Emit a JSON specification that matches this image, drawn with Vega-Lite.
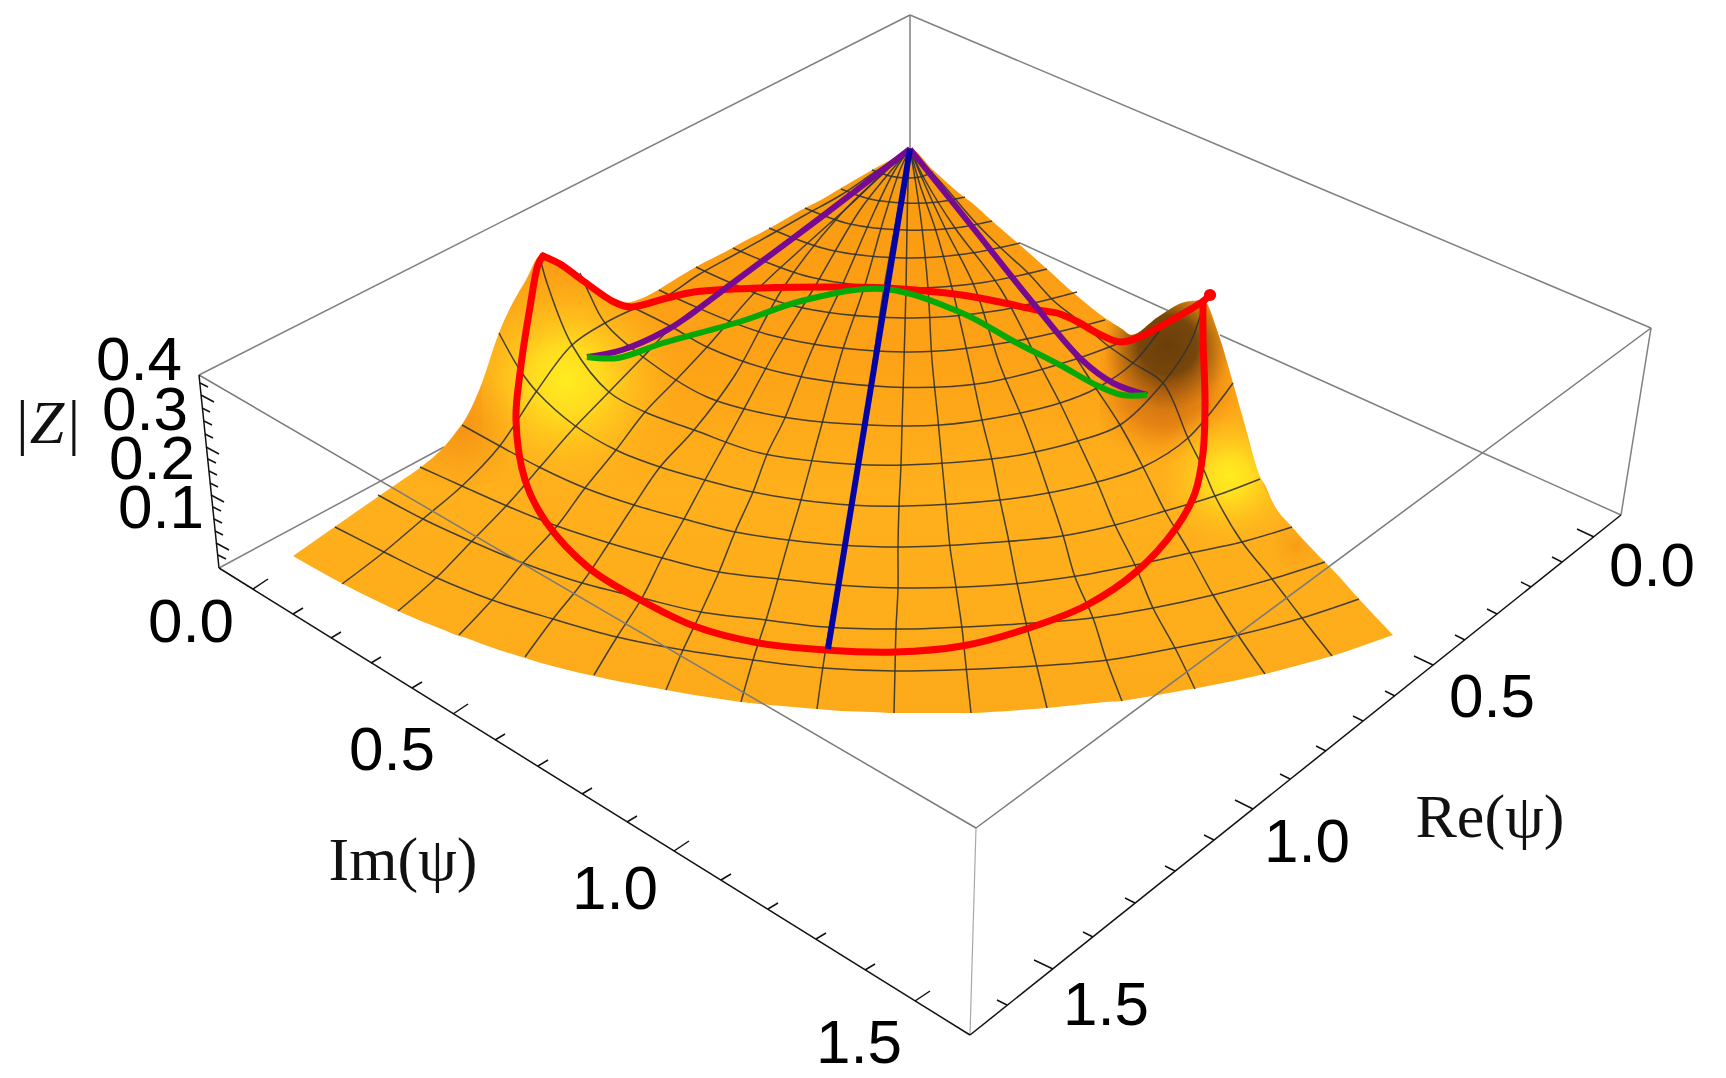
{"$schema":"https://vega.github.io/schema/vega-lite/v6.json","autosize":{"type":"fit","contains":"padding"},"width":1726,"height":1078,"padding":0,"background":"#ffffff","config":{"view":{"stroke":null}},
"datasets":{
"surface":[{"x":293,"y":556,"y2":556},{"x":343,"y":521,"y2":584},{"x":379,"y":496,"y2":602},{"x":398,"y":483,"y2":611},{"x":421,"y":467,"y2":621},{"x":444,"y":447,"y2":630},{"x":459,"y":428,"y2":636},{"x":463,"y":423,"y2":637},{"x":482,"y":383,"y2":644},{"x":499,"y":333,"y2":650},{"x":520,"y":290,"y2":656.5},{"x":525,"y":282,"y2":658},{"x":541,"y":255,"y2":663},{"x":560,"y":263,"y2":668},{"x":578,"y":273,"y2":672.5},{"x":594,"y":287,"y2":676},{"x":605,"y":297,"y2":678.5},{"x":622,"y":303,"y2":682},{"x":658,"y":290,"y2":688.5},{"x":666,"y":285,"y2":690},{"x":694,"y":268,"y2":695},{"x":734,"y":247,"y2":701},{"x":741,"y":243,"y2":702},{"x":770,"y":228,"y2":705},{"x":805,"y":208,"y2":708},{"x":817,"y":202,"y2":709},{"x":841,"y":188,"y2":711},{"x":872,"y":170,"y2":712},{"x":894,"y":158,"y2":713},{"x":910,"y":149,"y2":713},{"x":933,"y":170,"y2":713},{"x":964,"y":197,"y2":713},{"x":971,"y":202,"y2":713},{"x":991,"y":220,"y2":712},{"x":1020,"y":245,"y2":710},{"x":1047,"y":269,"y2":708},{"x":1076,"y":295,"y2":705},{"x":1105,"y":318,"y2":702},{"x":1122,"y":329,"y2":701},{"x":1131,"y":335,"y2":699.5},{"x":1158,"y":317,"y2":695},{"x":1185,"y":302,"y2":690},{"x":1195,"y":301,"y2":688.5},{"x":1203,"y":300,"y2":687},{"x":1218,"y":333,"y2":684},{"x":1233,"y":383,"y2":681},{"x":1247,"y":433,"y2":678},{"x":1260,"y":477,"y2":675},{"x":1265,"y":485,"y2":674},{"x":1273,"y":503,"y2":672},{"x":1292,"y":527,"y2":667},{"x":1325,"y":562,"y2":658},{"x":1332,"y":569,"y2":656},{"x":1359,"y":599,"y2":647},{"x":1393,"y":635,"y2":635}],
"patches":[
{"p":"yl","x":482,"y":383,"y2":490},{"p":"yl","x":499,"y":333,"y2":490},{"p":"yl","x":520,"y":290,"y2":490},{"p":"yl","x":541,"y":255,"y2":490},{"p":"yl","x":560,"y":263,"y2":490},{"p":"yl","x":578,"y":273,"y2":490},{"p":"yl","x":605,"y":297,"y2":490},{"p":"yl","x":622,"y":303,"y2":490},{"p":"yl","x":658,"y":290,"y2":490},{"p":"yl","x":680,"y":276,"y2":490},
{"p":"ol","x":400,"y":481,"y2":505},{"p":"ol","x":421,"y":467,"y2":505},{"p":"ol","x":444,"y":447,"y2":505},{"p":"ol","x":463,"y":423,"y2":505},{"p":"ol","x":482,"y":383,"y2":505},{"p":"ol","x":499,"y":333,"y2":505},{"p":"ol","x":520,"y":290,"y2":505},
{"p":"f1","x":1100,"y":314,"y2":480},{"p":"f1","x":1105,"y":318,"y2":480},{"p":"f1","x":1122,"y":329,"y2":480},{"p":"f1","x":1131,"y":335,"y2":480},{"p":"f1","x":1158,"y":317,"y2":480},{"p":"f1","x":1185,"y":302,"y2":480},{"p":"f1","x":1203,"y":300,"y2":480},{"p":"f1","x":1218,"y":333,"y2":480},{"p":"f1","x":1233,"y":383,"y2":480},{"p":"f1","x":1245,"y":426,"y2":480},
{"p":"c1","x":1105,"y":318,"y2":420},{"p":"c1","x":1122,"y":329,"y2":420},{"p":"c1","x":1131,"y":335,"y2":420},{"p":"c1","x":1158,"y":317,"y2":420},{"p":"c1","x":1185,"y":302,"y2":420},{"p":"c1","x":1203,"y":300,"y2":420},{"p":"c1","x":1218,"y":333,"y2":420},{"p":"c1","x":1233,"y":383,"y2":420},
{"p":"yr","x":1150,"y":400,"y2":560},{"p":"yr","x":1240,"y":405,"y2":560},{"p":"yr","x":1247,"y":433,"y2":560},{"p":"yr","x":1260,"y":477,"y2":560},{"p":"yr","x":1273,"y":503,"y2":560},{"p":"yr","x":1292,"y":527,"y2":560},
{"p":"os","x":1273,"y":503,"y2":590},{"p":"os","x":1292,"y":527,"y2":590},{"p":"os","x":1325,"y":562,"y2":590}],
"mesh":[
{"g":"a1","x":872,"y":170},{"g":"a1","x":890,"y":176},{"g":"a1","x":905,"y":178},{"g":"a1","x":920,"y":177},{"g":"a1","x":933,"y":172},
{"g":"a2","x":841,"y":189},{"g":"a2","x":870,"y":199},{"g":"a2","x":905,"y":203},{"g":"a2","x":938,"y":202},{"g":"a2","x":965,"y":197},
{"g":"a3","x":805,"y":208},{"g":"a3","x":850,"y":224},{"g":"a3","x":905,"y":230},{"g":"a3","x":955,"y":228},{"g":"a3","x":992,"y":221},
{"g":"a4","x":769,"y":228},{"g":"a4","x":830,"y":250},{"g":"a4","x":905,"y":258},{"g":"a4","x":965,"y":254},{"g":"a4","x":1020,"y":243},
{"g":"a5","x":733,"y":248},{"g":"a5","x":810,"y":277},{"g":"a5","x":905,"y":288},{"g":"a5","x":980,"y":283},{"g":"a5","x":1047,"y":269},
{"g":"a6","x":696,"y":267},{"g":"a6","x":790,"y":305},{"g":"a6","x":905,"y":318},{"g":"a6","x":995,"y":311},{"g":"a6","x":1077,"y":292},
{"g":"a7","x":659,"y":290},{"g":"a7","x":770,"y":335},{"g":"a7","x":905,"y":352},{"g":"a7","x":1010,"y":342},{"g":"a7","x":1105,"y":320},
{"g":"a8","x":634,"y":308},{"g":"a8","x":672,"y":327},{"g":"a8","x":707,"y":347},{"g":"a8","x":783,"y":373},{"g":"a8","x":890,"y":387},{"g":"a8","x":984,"y":383},{"g":"a8","x":1073,"y":360},{"g":"a8","x":1122,"y":342},
{"g":"a9","x":580,"y":273},{"g":"a9","x":589,"y":293},{"g":"a9","x":605,"y":323},{"g":"a9","x":643,"y":357},{"g":"a9","x":707,"y":397},{"g":"a9","x":783,"y":417},{"g":"a9","x":868,"y":425},{"g":"a9","x":940,"y":425},{"g":"a9","x":1000,"y":417},{"g":"a9","x":1060,"y":403},{"g":"a9","x":1097,"y":388},{"g":"a9","x":1133,"y":363},{"g":"a9","x":1162,"y":327},
{"g":"a10","x":540,"y":258},{"g":"a10","x":547,"y":283},{"g":"a10","x":572,"y":345},{"g":"a10","x":609,"y":392},{"g":"a10","x":645,"y":412},{"g":"a10","x":694,"y":430},{"g":"a10","x":760,"y":453},{"g":"a10","x":850,"y":464},{"g":"a10","x":905,"y":465},{"g":"a10","x":1000,"y":458},{"g":"a10","x":1035,"y":452},{"g":"a10","x":1078,"y":441},{"g":"a10","x":1120,"y":425},{"g":"a10","x":1163,"y":383},{"g":"a10","x":1190,"y":343},{"g":"a10","x":1202,"y":310},
{"g":"a11","x":499,"y":333},{"g":"a11","x":520,"y":370},{"g":"a11","x":537,"y":392},{"g":"a11","x":574,"y":425},{"g":"a11","x":616,"y":450},{"g":"a11","x":660,"y":467},{"g":"a11","x":705,"y":480},{"g":"a11","x":753,"y":492},{"g":"a11","x":801,"y":500},{"g":"a11","x":850,"y":505},{"g":"a11","x":905,"y":506},{"g":"a11","x":1000,"y":500},{"g":"a11","x":1048,"y":493},{"g":"a11","x":1097,"y":482},{"g":"a11","x":1143,"y":467},{"g":"a11","x":1188,"y":438},{"g":"a11","x":1233,"y":383},
{"g":"a12","x":462,"y":425},{"g":"a12","x":498,"y":445},{"g":"a12","x":541,"y":468},{"g":"a12","x":585,"y":488},{"g":"a12","x":634,"y":505},{"g":"a12","x":684,"y":519},{"g":"a12","x":735,"y":532},{"g":"a12","x":789,"y":540},{"g":"a12","x":840,"y":545},{"g":"a12","x":905,"y":547},{"g":"a12","x":1000,"y":542},{"g":"a12","x":1062,"y":536},{"g":"a12","x":1115,"y":525},{"g":"a12","x":1165,"y":511},{"g":"a12","x":1215,"y":496},{"g":"a12","x":1260,"y":479},
{"g":"a13","x":420,"y":467},{"g":"a13","x":462,"y":486},{"g":"a13","x":507,"y":506},{"g":"a13","x":557,"y":526},{"g":"a13","x":609,"y":543},{"g":"a13","x":662,"y":558},{"g":"a13","x":719,"y":572},{"g":"a13","x":778,"y":579},{"g":"a13","x":837,"y":585},{"g":"a13","x":905,"y":588},{"g":"a13","x":1000,"y":585},{"g":"a13","x":1077,"y":576},{"g":"a13","x":1135,"y":565},{"g":"a13","x":1190,"y":553},{"g":"a13","x":1242,"y":542},{"g":"a13","x":1292,"y":527},
{"g":"a14","x":378,"y":495},{"g":"a14","x":423,"y":519},{"g":"a14","x":473,"y":542},{"g":"a14","x":523,"y":563},{"g":"a14","x":582,"y":583},{"g":"a14","x":642,"y":598},{"g":"a14","x":701,"y":612},{"g":"a14","x":766,"y":620},{"g":"a14","x":826,"y":627},{"g":"a14","x":905,"y":629},{"g":"a14","x":1000,"y":625},{"g":"a14","x":1092,"y":618},{"g":"a14","x":1153,"y":608},{"g":"a14","x":1213,"y":595},{"g":"a14","x":1272,"y":579},{"g":"a14","x":1325,"y":562},
{"g":"a15","x":335,"y":527},{"g":"a15","x":384,"y":552},{"g":"a15","x":435,"y":577},{"g":"a15","x":492,"y":600},{"g":"a15","x":553,"y":619},{"g":"a15","x":617,"y":637},{"g":"a15","x":683,"y":650},{"g":"a15","x":753,"y":660},{"g":"a15","x":823,"y":668},{"g":"a15","x":895,"y":671},{"g":"a15","x":1000,"y":668},{"g":"a15","x":1108,"y":660},{"g":"a15","x":1175,"y":648},{"g":"a15","x":1238,"y":635},{"g":"a15","x":1302,"y":618},{"g":"a15","x":1359,"y":599},
{"g":"r1","x":910,"y":149},{"g":"r1","x":875,"y":172},{"g":"r1","x":841,"y":195},{"g":"r1","x":805,"y":215},{"g":"r1","x":770,"y":235},{"g":"r1","x":734,"y":255},{"g":"r1","x":698,"y":275},{"g":"r1","x":665,"y":297},{"g":"r1","x":636,"y":308},{"g":"r1","x":605,"y":323},{"g":"r1","x":572,"y":345},{"g":"r1","x":536,"y":392},{"g":"r1","x":499,"y":447},{"g":"r1","x":462,"y":486},{"g":"r1","x":423,"y":519},{"g":"r1","x":384,"y":552},{"g":"r1","x":342,"y":584},
{"g":"r2","x":910,"y":149},{"g":"r2","x":880,"y":172},{"g":"r2","x":850,"y":194},{"g":"r2","x":788,"y":240},{"g":"r2","x":725,"y":287},{"g":"r2","x":672,"y":327},{"g":"r2","x":643,"y":357},{"g":"r2","x":609,"y":392},{"g":"r2","x":574,"y":428},{"g":"r2","x":540,"y":467},{"g":"r2","x":507,"y":505},{"g":"r2","x":471,"y":542},{"g":"r2","x":436,"y":578},{"g":"r2","x":398,"y":611},
{"g":"r3","x":910,"y":149},{"g":"r3","x":880,"y":176},{"g":"r3","x":850,"y":205},{"g":"r3","x":800,"y":250},{"g":"r3","x":757,"y":290},{"g":"r3","x":707,"y":347},{"g":"r3","x":674,"y":382},{"g":"r3","x":645,"y":412},{"g":"r3","x":616,"y":450},{"g":"r3","x":585,"y":488},{"g":"r3","x":557,"y":526},{"g":"r3","x":523,"y":563},{"g":"r3","x":492,"y":600},{"g":"r3","x":459,"y":635},
{"g":"r4","x":910,"y":149},{"g":"r4","x":885,"y":172},{"g":"r4","x":840,"y":215},{"g":"r4","x":783,"y":288},{"g":"r4","x":735,"y":375},{"g":"r4","x":694,"y":430},{"g":"r4","x":660,"y":467},{"g":"r4","x":634,"y":505},{"g":"r4","x":609,"y":543},{"g":"r4","x":582,"y":583},{"g":"r4","x":553,"y":619},{"g":"r4","x":525,"y":657},
{"g":"r5","x":910,"y":149},{"g":"r5","x":890,"y":172},{"g":"r5","x":860,"y":210},{"g":"r5","x":814,"y":288},{"g":"r5","x":775,"y":352},{"g":"r5","x":738,"y":420},{"g":"r5","x":705,"y":480},{"g":"r5","x":684,"y":519},{"g":"r5","x":662,"y":558},{"g":"r5","x":642,"y":598},{"g":"r5","x":617,"y":637},{"g":"r5","x":594,"y":675},
{"g":"r6","x":910,"y":149},{"g":"r6","x":895,"y":170},{"g":"r6","x":875,"y":210},{"g":"r6","x":841,"y":288},{"g":"r6","x":811,"y":352},{"g":"r6","x":784,"y":420},{"g":"r6","x":768,"y":452},{"g":"r6","x":753,"y":492},{"g":"r6","x":735,"y":532},{"g":"r6","x":719,"y":572},{"g":"r6","x":701,"y":612},{"g":"r6","x":683,"y":650},{"g":"r6","x":666,"y":690},
{"g":"r7","x":910,"y":149},{"g":"r7","x":900,"y":170},{"g":"r7","x":885,"y":215},{"g":"r7","x":864,"y":288},{"g":"r7","x":842,"y":352},{"g":"r7","x":823,"y":420},{"g":"r7","x":812,"y":460},{"g":"r7","x":801,"y":500},{"g":"r7","x":789,"y":540},{"g":"r7","x":778,"y":579},{"g":"r7","x":766,"y":620},{"g":"r7","x":753,"y":660},{"g":"r7","x":741,"y":702},
{"g":"r8","x":910,"y":149},{"g":"r8","x":884,"y":288},{"g":"r8","x":864,"y":425},{"g":"r8","x":845,"y":540},{"g":"r8","x":826,"y":647},{"g":"r8","x":817,"y":709},
{"g":"r9","x":910,"y":149},{"g":"r9","x":908,"y":185},{"g":"r9","x":907,"y":228},{"g":"r9","x":906,"y":288},{"g":"r9","x":904,"y":360},{"g":"r9","x":902,"y":426},{"g":"r9","x":901,"y":465},{"g":"r9","x":899,"y":506},{"g":"r9","x":898,"y":547},{"g":"r9","x":898,"y":588},{"g":"r9","x":896,"y":629},{"g":"r9","x":895,"y":670},{"g":"r9","x":894,"y":713},
{"g":"r10","x":910,"y":149},{"g":"r10","x":916,"y":185},{"g":"r10","x":922,"y":228},{"g":"r10","x":928,"y":288},{"g":"r10","x":932,"y":360},{"g":"r10","x":938,"y":420},{"g":"r10","x":942,"y":463},{"g":"r10","x":946,"y":505},{"g":"r10","x":950,"y":547},{"g":"r10","x":956,"y":587},{"g":"r10","x":962,"y":628},{"g":"r10","x":964,"y":647},{"g":"r10","x":971,"y":713},
{"g":"r11","x":910,"y":149},{"g":"r11","x":920,"y":185},{"g":"r11","x":935,"y":228},{"g":"r11","x":952,"y":288},{"g":"r11","x":970,"y":365},{"g":"r11","x":982,"y":420},{"g":"r11","x":992,"y":460},{"g":"r11","x":1000,"y":500},{"g":"r11","x":1008,"y":537},{"g":"r11","x":1017,"y":583},{"g":"r11","x":1027,"y":627},{"g":"r11","x":1037,"y":667},{"g":"r11","x":1047,"y":708},
{"g":"r12","x":910,"y":149},{"g":"r12","x":925,"y":185},{"g":"r12","x":945,"y":228},{"g":"r12","x":975,"y":288},{"g":"r12","x":1000,"y":365},{"g":"r12","x":1023,"y":420},{"g":"r12","x":1035,"y":452},{"g":"r12","x":1049,"y":493},{"g":"r12","x":1063,"y":535},{"g":"r12","x":1075,"y":577},{"g":"r12","x":1093,"y":618},{"g":"r12","x":1106,"y":659},{"g":"r12","x":1122,"y":701},
{"g":"r13","x":910,"y":149},{"g":"r13","x":925,"y":180},{"g":"r13","x":955,"y":228},{"g":"r13","x":1000,"y":288},{"g":"r13","x":1040,"y":365},{"g":"r13","x":1060,"y":403},{"g":"r13","x":1078,"y":441},{"g":"r13","x":1097,"y":482},{"g":"r13","x":1115,"y":525},{"g":"r13","x":1135,"y":565},{"g":"r13","x":1153,"y":608},{"g":"r13","x":1175,"y":648},{"g":"r13","x":1195,"y":689},
{"g":"r14","x":910,"y":149},{"g":"r14","x":935,"y":180},{"g":"r14","x":975,"y":230},{"g":"r14","x":1020,"y":290},{"g":"r14","x":1060,"y":335},{"g":"r14","x":1095,"y":387},{"g":"r14","x":1120,"y":425},{"g":"r14","x":1143,"y":467},{"g":"r14","x":1165,"y":511},{"g":"r14","x":1190,"y":553},{"g":"r14","x":1213,"y":595},{"g":"r14","x":1238,"y":635},{"g":"r14","x":1265,"y":674},
{"g":"r15","x":910,"y":149},{"g":"r15","x":945,"y":187},{"g":"r15","x":975,"y":222},{"g":"r15","x":1003,"y":250},{"g":"r15","x":1028,"y":273},{"g":"r15","x":1055,"y":302},{"g":"r15","x":1078,"y":320},{"g":"r15","x":1107,"y":345},{"g":"r15","x":1133,"y":363},{"g":"r15","x":1163,"y":383},{"g":"r15","x":1188,"y":438},{"g":"r15","x":1203,"y":468},{"g":"r15","x":1215,"y":496},{"g":"r15","x":1242,"y":542},{"g":"r15","x":1272,"y":579},{"g":"r15","x":1302,"y":618},{"g":"r15","x":1332,"y":656}],
"curves":[
{"g":"green","c":"green","x":587,"y":357},{"g":"green","c":"green","x":618,"y":358},{"g":"green","c":"green","x":663,"y":343},{"g":"green","c":"green","x":739,"y":322},{"g":"green","c":"green","x":805,"y":300},{"g":"green","c":"green","x":884,"y":289},{"g":"green","c":"green","x":962,"y":313},{"g":"green","c":"green","x":1015,"y":342},{"g":"green","c":"green","x":1060,"y":365},{"g":"green","c":"green","x":1096,"y":385},{"g":"green","c":"green","x":1122,"y":395},{"g":"green","c":"green","x":1147,"y":395},
{"g":"pl","c":"purple","x":910,"y":149},{"g":"pl","c":"purple","x":820,"y":218},{"g":"pl","c":"purple","x":730,"y":285},{"g":"pl","c":"purple","x":690,"y":315},{"g":"pl","c":"purple","x":667,"y":330},{"g":"pl","c":"purple","x":622,"y":350},{"g":"pl","c":"purple","x":587,"y":357},
{"g":"pr","c":"purple","x":910,"y":149},{"g":"pr","c":"purple","x":970,"y":224},{"g":"pr","c":"purple","x":1033,"y":303},{"g":"pr","c":"purple","x":1082,"y":360},{"g":"pr","c":"purple","x":1113,"y":383},{"g":"pr","c":"purple","x":1147,"y":395},
{"g":"blue","c":"blue","x":910,"y":149},{"g":"blue","c":"blue","x":828,"y":649},
{"g":"red1","c":"red","x":1210,"y":295},{"g":"red1","c":"red","x":1202,"y":302},{"g":"red1","c":"red","x":1163,"y":325},{"g":"red1","c":"red","x":1140,"y":337},{"g":"red1","c":"red","x":1120,"y":342},{"g":"red1","c":"red","x":1097,"y":333},{"g":"red1","c":"red","x":1078,"y":322},{"g":"red1","c":"red","x":1057,"y":313},{"g":"red1","c":"red","x":1037,"y":310},{"g":"red1","c":"red","x":1000,"y":302},{"g":"red1","c":"red","x":962,"y":295},{"g":"red1","c":"red","x":886,"y":288},{"g":"red1","c":"red","x":828,"y":287},{"g":"red1","c":"red","x":761,"y":288},{"g":"red1","c":"red","x":694,"y":292},{"g":"red1","c":"red","x":667,"y":298},{"g":"red1","c":"red","x":631,"y":307},{"g":"red1","c":"red","x":614,"y":302},{"g":"red1","c":"red","x":582,"y":280},{"g":"red1","c":"red","x":560,"y":264},{"g":"red1","c":"red","x":543,"y":256},
{"g":"red2","c":"red","x":543,"y":256},{"g":"red2","c":"red","x":538,"y":265},{"g":"red2","c":"red","x":530,"y":307},{"g":"red2","c":"red","x":520,"y":373},{"g":"red2","c":"red","x":516,"y":420},{"g":"red2","c":"red","x":525,"y":480},{"g":"red2","c":"red","x":546,"y":522},{"g":"red2","c":"red","x":589,"y":568},{"g":"red2","c":"red","x":637,"y":598},{"g":"red2","c":"red","x":694,"y":626},{"g":"red2","c":"red","x":759,"y":643},{"g":"red2","c":"red","x":826,"y":650},{"g":"red2","c":"red","x":895,"y":652},{"g":"red2","c":"red","x":962,"y":646},{"g":"red2","c":"red","x":1029,"y":628},{"g":"red2","c":"red","x":1087,"y":605},{"g":"red2","c":"red","x":1136,"y":572},{"g":"red2","c":"red","x":1176,"y":528},{"g":"red2","c":"red","x":1195,"y":493},{"g":"red2","c":"red","x":1203,"y":453},{"g":"red2","c":"red","x":1205,"y":403},{"g":"red2","c":"red","x":1203,"y":337},{"g":"red2","c":"red","x":1203,"y":303}],
"back":[{"x":910,"y":15,"x2":910,"y2":149},{"x":219,"y":568,"x2":444,"y2":447},{"x":1020,"y":243,"x2":1171,"y2":312},{"x":1220,"y":335,"x2":1621,"y2":515},{"x":199,"y":375,"x2":910,"y2":15},{"x":910,"y":15,"x2":1651,"y2":328},{"x":1651,"y":328,"x2":1621,"y2":515}],
"front":[{"x":199,"y":375,"x2":976,"y2":828},{"x":976,"y":828,"x2":1651,"y2":328}],
"light":[{"x":976,"y":828,"x2":970,"y2":1035}],
"axes":[{"x":199,"y":375,"x2":219,"y2":568},{"x":219,"y":568,"x2":970,"y2":1035},{"x":1621,"y":515,"x2":970,"y2":1035},
{"x":200,"y":383,"x2":208,"y2":387},{"x":201,"y":395,"x2":214,"y2":402},{"x":202,"y":408,"x2":210,"y2":412},{"x":204,"y":421,"x2":212,"y2":425},{"x":205,"y":434,"x2":213,"y2":438},{"x":206,"y":447,"x2":219,"y2":454},{"x":208,"y":459,"x2":216,"y2":463},{"x":209,"y":471,"x2":217,"y2":475},{"x":210,"y":483,"x2":218,"y2":487},{"x":211,"y":495,"x2":224,"y2":502},{"x":213,"y":507,"x2":221,"y2":511},{"x":214,"y":519,"x2":222,"y2":523},{"x":215,"y":531,"x2":223,"y2":535},{"x":216,"y":543,"x2":229,"y2":550},{"x":218,"y":555,"x2":226,"y2":559},
{"x":253,"y":589,"x2":268,"y2":579},{"x":293,"y":614,"x2":303,"y2":608},{"x":331,"y":638,"x2":341,"y2":632},{"x":371,"y":663,"x2":381,"y2":657},{"x":412,"y":688,"x2":422,"y2":682},{"x":453,"y":714,"x2":468,"y2":704},{"x":495,"y":740,"x2":505,"y2":734},{"x":538,"y":766,"x2":548,"y2":760},{"x":582,"y":794,"x2":592,"y2":788},{"x":627,"y":822,"x2":637,"y2":816},{"x":674,"y":851,"x2":689,"y2":841},{"x":721,"y":880,"x2":731,"y2":874},{"x":768,"y":909,"x2":778,"y2":903},{"x":816,"y":939,"x2":826,"y2":933},{"x":865,"y":970,"x2":875,"y2":964},{"x":915,"y":1001,"x2":930,"y2":991},
{"x":1594,"y":537,"x2":1577,"y2":529},{"x":1562,"y":562,"x2":1552,"y2":557},{"x":1531,"y":587,"x2":1521,"y2":582},{"x":1497,"y":614,"x2":1487,"y2":609},{"x":1465,"y":640,"x2":1455,"y2":635},{"x":1433,"y":665,"x2":1414,"y2":656},{"x":1395,"y":696,"x2":1385,"y2":691},{"x":1363,"y":721,"x2":1353,"y2":716},{"x":1326,"y":751,"x2":1316,"y2":746},{"x":1290,"y":779,"x2":1280,"y2":774},{"x":1253,"y":809,"x2":1235,"y2":800},{"x":1214,"y":840,"x2":1204,"y2":835},{"x":1175,"y":871,"x2":1165,"y2":866},{"x":1135,"y":903,"x2":1125,"y2":898},{"x":1093,"y":937,"x2":1083,"y2":932},{"x":1053,"y":969,"x2":1034,"y2":960},{"x":1007,"y":1005,"x2":997,"y2":1000}],
"ticklabels":[{"t":"0.4","x":139,"y":361},{"t":"0.3","x":145,"y":411},{"t":"0.2","x":152,"y":460},{"t":"0.1","x":161,"y":509},{"t":"0.0","x":191,"y":623},{"t":"0.5","x":392,"y":751},{"t":"1.0","x":615,"y":890},{"t":"1.5","x":859,"y":1044},{"t":"0.0","x":1652,"y":567},{"t":"0.5","x":1492,"y":698},{"t":"1.0","x":1307,"y":843},{"t":"1.5","x":1106,"y":1006}],
"titles":[{"t":"Im(ψ)","x":403,"y":861},{"t":"Re(ψ)","x":1490,"y":818}],
"ztitle":[{"t":"|Z|","x":47,"y":424}],
"dot":[{"x":1210,"y":295}]
},
"encoding":{"x":{"field":"x","type":"quantitative","scale":{"domain":[0,1726],"nice":false,"zero":false},"axis":null},"y":{"field":"y","type":"quantitative","scale":{"domain":[1078,0],"nice":false,"zero":false},"axis":null}},
"layer":[
{"data":{"name":"back"},"mark":{"type":"rule","color":"#808080","strokeWidth":1.5},"encoding":{"x2":{"field":"x2"},"y2":{"field":"y2"}}},
{"data":{"name":"light"},"mark":{"type":"rule","color":"#a8a8a8","strokeWidth":1.2},"encoding":{"x2":{"field":"x2"},"y2":{"field":"y2"}}},
{"data":{"name":"surface"},"mark":{"type":"area","opacity":1,"interpolate":"monotone","fill":{"gradient":"linear","x1":0,"y1":0,"x2":0,"y2":1,"stops":[{"offset":0,"color":"#f99a10"},{"offset":0.35,"color":"#fda116"},{"offset":0.6,"color":"#ffb01c"},{"offset":1,"color":"#fdaa1a"}]}},"encoding":{"y2":{"field":"y2"}}},
{"data":{"name":"patches"},"transform":[{"filter":"datum.p=='yl'"}],"mark":{"type":"area","opacity":1,"interpolate":"monotone","fill":{"gradient":"radial","x1":0.436,"y1":0.532,"r1":0,"x2":0.436,"y2":0.532,"r2":0.49,"stops":[{"offset":0,"color":"rgba(255,236,32,1)"},{"offset":0.3,"color":"rgba(255,225,32,0.9)"},{"offset":0.65,"color":"rgba(255,200,30,0.5)"},{"offset":1,"color":"rgba(255,180,28,0)"}]}},"encoding":{"y2":{"field":"y2"}}},
{"data":{"name":"patches"},"transform":[{"filter":"datum.p=='ol'"}],"mark":{"type":"area","opacity":1,"interpolate":"monotone","fill":{"gradient":"radial","x1":0.5,"y1":0.651,"r1":0,"x2":0.5,"y2":0.651,"r2":0.3,"stops":[{"offset":0,"color":"rgba(240,135,18,0.65)"},{"offset":1,"color":"rgba(245,150,20,0)"}]}},"encoding":{"y2":{"field":"y2"}}},
{"data":{"name":"patches"},"transform":[{"filter":"datum.p=='f1'"}],"mark":{"type":"area","opacity":1,"interpolate":"monotone","fill":{"gradient":"radial","x1":0.458,"y1":0.472,"r1":0,"x2":0.458,"y2":0.472,"r2":0.444,"stops":[{"offset":0,"color":"rgba(190,100,14,1)"},{"offset":0.55,"color":"rgba(225,125,18,0.8)"},{"offset":1,"color":"rgba(250,150,20,0)"}]}},"encoding":{"y2":{"field":"y2"}}},
{"data":{"name":"patches"},"transform":[{"filter":"datum.p=='c1'"}],"mark":{"type":"area","opacity":1,"interpolate":"monotone","fill":{"gradient":"radial","x1":0.492,"y1":0.383,"r1":0,"x2":0.492,"y2":0.383,"r2":0.508,"stops":[{"offset":0,"color":"rgba(107,62,10,1)"},{"offset":0.45,"color":"rgba(115,68,11,0.97)"},{"offset":1,"color":"rgba(170,95,14,0)"}]}},"encoding":{"y2":{"field":"y2"}}},
{"data":{"name":"patches"},"transform":[{"filter":"datum.p=='yr'"}],"mark":{"type":"area","opacity":1,"interpolate":"monotone","fill":{"gradient":"radial","x1":0.556,"y1":0.48,"r1":0,"x2":0.556,"y2":0.48,"r2":0.47,"stops":[{"offset":0,"color":"rgba(255,236,32,1)"},{"offset":0.25,"color":"rgba(255,228,32,0.9)"},{"offset":0.6,"color":"rgba(255,205,30,0.5)"},{"offset":1,"color":"rgba(255,180,28,0)"}]}},"encoding":{"y2":{"field":"y2"}}},
{"data":{"name":"patches"},"transform":[{"filter":"datum.p=='os'"}],"mark":{"type":"area","opacity":1,"interpolate":"monotone","fill":{"gradient":"radial","x1":0.47,"y1":0.49,"r1":0,"x2":0.47,"y2":0.49,"r2":0.35,"stops":[{"offset":0,"color":"rgba(248,155,22,0.9)"},{"offset":1,"color":"rgba(250,165,25,0)"}]}},"encoding":{"y2":{"field":"y2"}}},
{"data":{"name":"mesh"},"mark":{"type":"line","color":"#333333","strokeWidth":1.5,"opacity":0.9,"interpolate":"catmull-rom"},"encoding":{"detail":{"field":"g"},"order":{"value":null}}},
{"data":{"name":"curves"},"transform":[{"filter":"datum.c=='red'"}],"mark":{"type":"line","color":"#ff0000","strokeWidth":7,"interpolate":"catmull-rom","strokeJoin":"round","strokeCap":"round"},"encoding":{"detail":{"field":"g"},"order":{"value":null}}},
{"data":{"name":"dot"},"mark":{"type":"point","filled":true,"color":"#ff0000","opacity":1,"size":150}},
{"data":{"name":"curves"},"transform":[{"filter":"datum.c=='purple'"}],"mark":{"type":"line","color":"#770a92","strokeWidth":6,"interpolate":"catmull-rom"},"encoding":{"detail":{"field":"g"},"order":{"value":null}}},
{"data":{"name":"curves"},"transform":[{"filter":"datum.c=='green'"}],"mark":{"type":"line","color":"#06a806","strokeWidth":6,"interpolate":"catmull-rom"},"encoding":{"detail":{"field":"g"},"order":{"value":null}}},
{"data":{"name":"curves"},"transform":[{"filter":"datum.c=='blue'"}],"mark":{"type":"line","color":"#0505a5","strokeWidth":6},"encoding":{"detail":{"field":"g"},"order":{"value":null}}},
{"data":{"name":"front"},"mark":{"type":"rule","color":"#7a7a7a","strokeWidth":1.5},"encoding":{"x2":{"field":"x2"},"y2":{"field":"y2"}}},
{"data":{"name":"axes"},"mark":{"type":"rule","color":"#111111","strokeWidth":1.5},"encoding":{"x2":{"field":"x2"},"y2":{"field":"y2"}}},
{"data":{"name":"ticklabels"},"mark":{"type":"text","font":"Liberation Sans","fontSize":62,"color":"#000000","align":"center","baseline":"middle"},"encoding":{"text":{"field":"t"}}},
{"data":{"name":"titles"},"mark":{"type":"text","font":"Liberation Serif","fontSize":62,"color":"#111111","align":"center","baseline":"middle"},"encoding":{"text":{"field":"t"}}},
{"data":{"name":"ztitle"},"mark":{"type":"text","font":"Liberation Serif","fontStyle":"italic","fontSize":62,"color":"#111111","align":"center","baseline":"middle"},"encoding":{"text":{"field":"t"}}}
]}
